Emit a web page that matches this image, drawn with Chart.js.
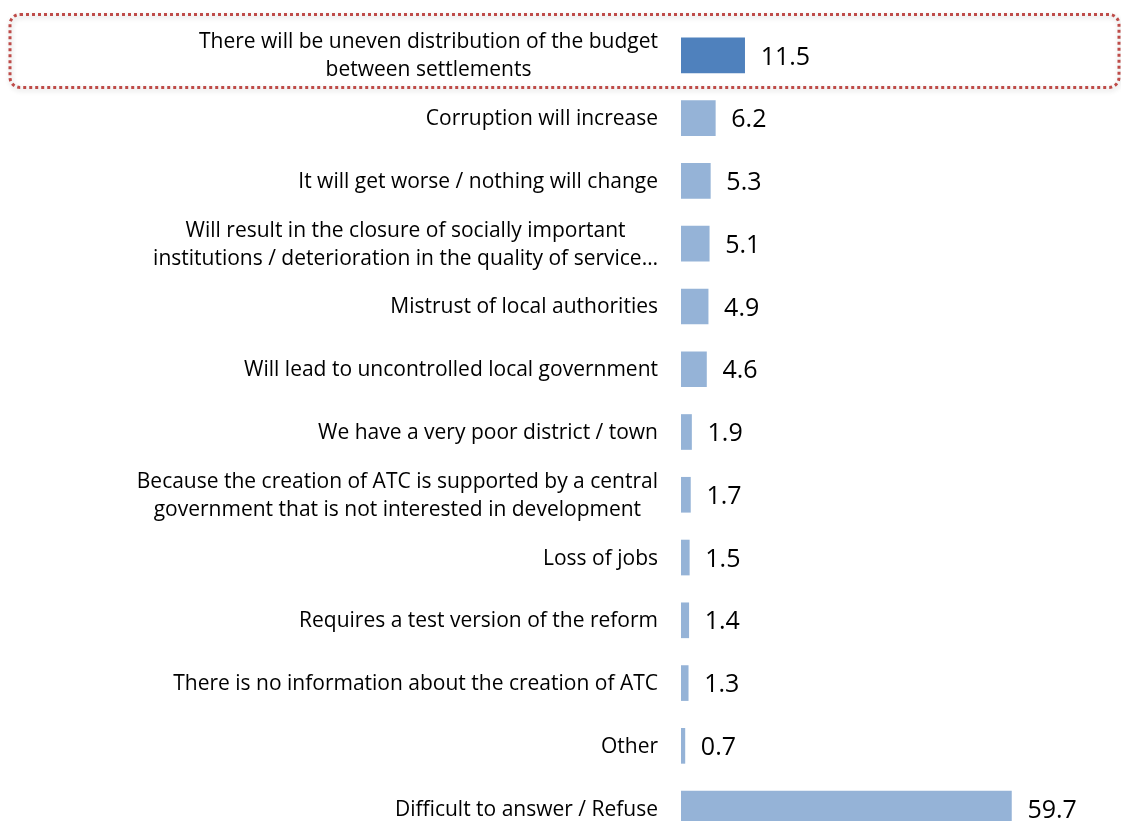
<!DOCTYPE html>
<html>
<head>
<meta charset="utf-8">
<script src="https://cdn.jsdelivr.net/npm/chart.js@4/dist/chart.umd.min.js"></script>
<style>
html,body{margin:0;padding:0;background:#fff;overflow:hidden;}
canvas{display:block;}
</style>
</head>
<body>
<canvas id="c" width="1121" height="840"></canvas>
<script>
const categories = [
  ["There will be uneven distribution of the budget", "between settlements"],
  "Corruption will increase",
  "It will get worse / nothing will change",
  ["Will result in the closure of socially important", "institutions / deterioration in the quality of service\u2026"],
  "Mistrust of local authorities",
  "Will lead to uncontrolled local government",
  "We have a very poor district / town",
  ["Because the creation of ATC is supported by a central", "government that is not interested in development"],
  "Loss of jobs",
  "Requires a test version of the reform",
  "There is no information about the creation of ATC",
  "Other",
  "Difficult to answer / Refuse"
];
const values = [11.5, 6.2, 5.3, 5.1, 4.9, 4.6, 1.9, 1.7, 1.5, 1.4, 1.3, 0.7, 59.7];
const highlightIndex = 0;

const FONT = "'Open Sans', Lato, sans-serif";

// category labels: multi-line blocks centred line-by-line, block right-aligned to the axis
const categoryLabels = {
  id: 'categoryLabels',
  afterDraw(chart) {
    const ctx = chart.ctx;
    const ys = chart.scales.y;
    const right = ys.right - 23;
    const lh = 28;
    ctx.save();
    ctx.font = "21px " + FONT;
    ctx.fillStyle = "#000";
    ctx.textBaseline = "middle";
    ctx.textAlign = "center";
    categories.forEach((lab, i) => {
      const lines = Array.isArray(lab) ? lab : [lab];
      const widths = lines.map(l => ctx.measureText(l).width);
      const maxW = Math.max(...widths);
      const cx = right - maxW / 2;
      const yc = ys.getPixelForTick(i);
      lines.forEach((l, k) => {
        const y = yc + (k - (lines.length - 1) / 2) * lh + 1;
        ctx.fillText(l, cx, y);
      });
    });
    ctx.restore();
  }
};

const valueLabels = {
  id: 'valueLabels',
  afterDatasetsDraw(chart) {
    const ctx = chart.ctx;
    const meta = chart.getDatasetMeta(0);
    ctx.save();
    ctx.font = "25px " + FONT;
    ctx.fillStyle = "#000";
    ctx.textAlign = "left";
    ctx.textBaseline = "middle";
    meta.data.forEach((bar, i) => {
      ctx.fillText(values[i].toFixed(1), bar.x + 16, bar.y + 2);
    });
    ctx.restore();
  }
};

const highlightBox = {
  id: 'highlightBox',
  beforeDatasetsDraw(chart) {
    const ctx = chart.ctx;
    const yc = chart.scales.y.getPixelForTick(highlightIndex);
    const x = 10, w = 1109, y = yc - 41, h = 73, r = 10;
    ctx.save();
    ctx.shadowColor = "rgba(0,0,0,0.22)";
    ctx.shadowBlur = 5;
    ctx.shadowOffsetX = 1;
    ctx.shadowOffsetY = 2;
    ctx.strokeStyle = "#BE4B48";
    ctx.lineWidth = 3;
    ctx.lineCap = "butt";
    ctx.setLineDash([3, 3]);
    ctx.beginPath();
    ctx.roundRect(x, y, w, h, r);
    ctx.stroke();
    ctx.restore();
  }
};

new Chart(document.getElementById('c'), {
  type: 'bar',
  data: {
    labels: categories,
    datasets: [{
      data: values,
      backgroundColor: values.map((v, i) => i === highlightIndex ? '#4F81BD' : '#95B3D7'),
      borderWidth: 0,
      barThickness: 35
    }]
  },
  options: {
    indexAxis: 'y',
    responsive: false,
    animation: false,
    layout: { padding: { top: 24, bottom: 0, left: 0, right: 0 } },
    plugins: { legend: { display: false }, tooltip: { enabled: false } },
    scales: {
      x: {
        display: false,
        min: 0,
        max: 79.5
      },
      y: {
        grid: { display: false, drawTicks: false },
        border: { display: false },
        afterFit(scale) {
          scale.width = 681;
          scale.paddingTop = 0;
          scale.paddingBottom = 0;
        },
        ticks: { display: false, autoSkip: false }
      }
    }
  },
  plugins: [highlightBox, valueLabels, categoryLabels]
});
</script>
</body>
</html>
